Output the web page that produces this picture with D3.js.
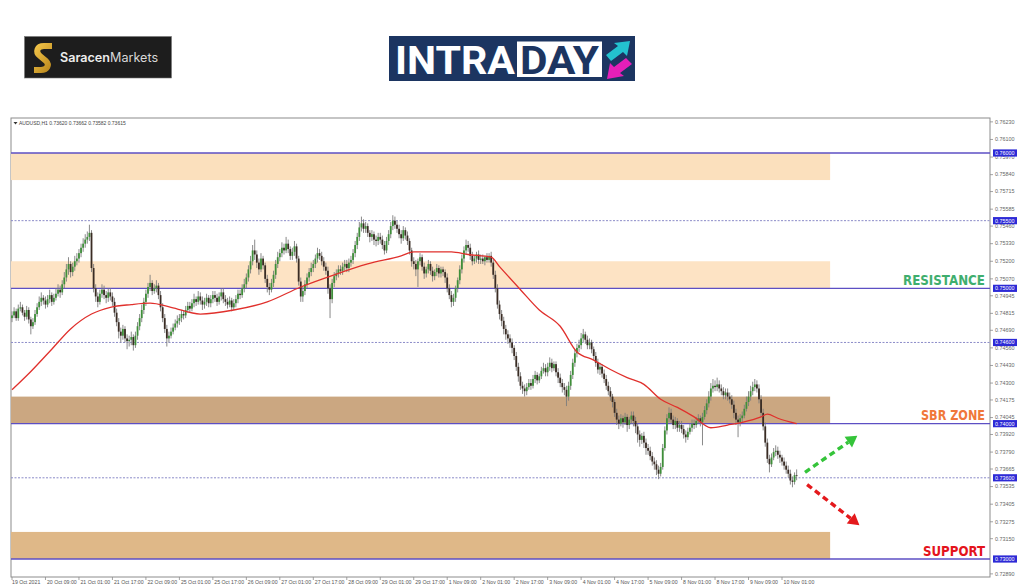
<!DOCTYPE html>
<html>
<head>
<meta charset="utf-8">
<script src="https://cdn.jsdelivr.net/npm/d3@7"></script>
<style>
body { margin:0; background:#fff; }
</style>
</head>
<body>
<script>
// AUDUSD H1 bars, prices in pips above 0.73000
var base = 0.73;
var firstOpen = 178;
var closes = [
  180,183,178,185,186,182,179,184,177,172,175,181,186,190,193,191,
  188,192,195,190,193,196,199,197,203,208,214,218,212,216,220,222,
  226,230,233,236,238,241,215,200,194,190,196,199,195,193,197,194,
  190,182,175,168,165,170,163,161,162,164,158,165,172,178,184,190,
  196,201,204,198,200,202,195,186,178,170,163,165,168,171,174,176,
  178,181,180,184,187,185,189,192,190,194,191,188,190,193,189,192,
  195,193,190,194,197,192,190,188,191,186,189,192,196,195,200,203,
  208,214,220,228,225,219,214,222,217,207,201,199,204,210,218,223,
  226,230,228,233,229,224,227,231,222,205,194,198,203,208,212,215,
  218,222,226,224,220,216,213,200,192,204,209,211,214,213,216,218,
  215,219,221,226,232,238,245,248,244,246,241,238,240,236,235,238,
  236,232,228,235,240,246,250,247,244,240,237,243,239,235,228,220,
  218,214,220,223,216,211,214,218,213,209,212,215,211,214,212,208,
  200,195,190,193,200,206,214,222,228,232,230,224,220,222,225,221,
  222,220,223,221,224,219,210,200,188,181,176,170,166,163,160,156,
  150,142,135,128,126,124,127,130,128,133,136,132,135,139,141,138,
  142,145,141,144,138,134,130,127,125,120,128,136,145,152,156,158,
  163,166,162,158,160,155,150,145,140,142,137,133,128,124,120,116,
  108,103,100,104,101,105,99,103,106,102,98,92,88,91,86,82,
  80,76,72,70,66,63,68,82,95,104,108,103,99,102,97,99,
  96,92,90,94,97,100,99,102,104,101,105,110,115,120,126,128,
  127,129,126,124,121,123,120,118,114,108,103,101,104,106,111,116,
  120,124,127,129,126,118,108,98,86,74,70,75,79,80,77,75,
  72,69,66,63,58,57,62,61.5
];
var highs = [
  183,186,185,188,190,188,184,187,186,179,178,184,189,194,197,195,
  194,195,199,197,196,200,203,202,206,212,218,223,220,219,224,226,
  229,233,237,240,242,247,243,218,203,197,199,203,202,198,200,200,
  197,193,185,178,171,173,172,166,165,168,166,168,175,181,188,193,
  199,204,210,206,203,206,204,198,189,181,173,168,171,174,177,180,
  181,184,184,187,190,190,192,196,194,198,197,194,193,196,195,195,
  198,198,196,197,200,200,195,193,194,193,192,195,199,199,203,207,
  211,217,224,232,236,228,222,226,224,219,210,204,207,213,221,227,
  229,234,233,238,236,231,230,235,233,224,208,201,206,211,215,219,
  221,225,230,229,227,223,219,216,203,207,212,214,217,217,219,221,
  221,222,224,229,235,241,249,253,251,249,248,243,243,242,239,241,
  241,239,235,238,243,249,254,253,250,247,243,246,245,242,237,230,
  223,221,222,226,225,219,216,221,220,216,214,218,217,216,216,214,
  211,203,198,196,202,208,217,225,231,236,235,233,227,224,227,228,
  225,225,224,226,226,227,222,213,203,191,184,179,173,169,166,163,
  158,153,145,138,131,129,130,133,133,136,139,138,137,142,145,144,
  145,149,148,146,146,141,137,133,130,128,131,139,148,155,159,162,
  167,170,168,165,163,162,157,153,148,145,144,140,136,131,127,122,
  118,111,106,107,106,108,107,105,109,109,105,100,95,93,94,89,
  85,83,79,75,73,69,71,85,98,107,112,111,106,105,104,102,
  102,99,95,97,100,103,103,105,107,106,108,113,118,124,130,133,
  132,134,132,129,127,126,126,123,121,117,111,106,107,109,114,120,
  124,128,131,133,132,129,121,111,101,89,77,78,82,84,83,80,
  77,75,72,69,66,61,64,66.2
];
var lows = [
  175,178,176,176,183,180,176,177,174,166,170,173,179,184,187,188,
  185,186,189,187,188,191,194,193,195,200,205,210,208,209,213,217,
  219,223,227,230,233,235,212,197,190,186,188,193,192,189,190,191,
  187,179,172,163,160,162,160,155,157,158,154,156,162,169,175,181,
  187,193,198,195,196,197,192,183,175,167,157,160,163,166,169,171,
  173,175,177,178,182,182,183,186,187,188,188,184,185,187,186,186,
  189,190,187,188,191,189,187,185,186,183,184,186,189,192,193,197,
  200,205,211,217,221,215,210,212,214,204,197,195,197,201,207,215,
  220,223,225,226,226,221,221,224,219,202,190,190,195,200,205,209,
  212,215,219,221,217,213,210,196,178,189,201,206,208,210,210,213,
  212,212,216,218,223,229,235,242,241,241,238,234,235,232,231,232,
  233,229,225,226,232,237,243,244,241,237,233,235,236,232,225,216,
  214,209,201,217,213,207,208,211,210,205,206,209,208,208,209,204,
  197,192,186,187,190,197,203,211,219,225,227,221,217,218,219,218,
  218,218,217,219,219,216,207,197,185,177,172,166,162,159,156,152,
  147,139,131,125,122,120,121,125,125,126,130,129,130,133,137,135,
  135,139,138,139,135,130,127,123,121,113,117,125,133,142,149,153,
  155,160,159,155,155,152,147,142,137,136,134,130,125,121,117,112,
  105,99,96,98,97,99,94,96,100,98,93,86,83,85,82,77,
  77,73,69,66,62,59,61,66,80,92,101,100,96,96,94,94,
  93,89,86,88,92,94,96,97,100,98,84,103,107,112,117,123,
  124,124,123,121,118,118,117,115,111,104,99,90,98,101,104,109,
  113,117,121,124,123,115,105,95,83,71,64,68,73,76,74,71,
  69,66,63,60,55,53,55,58.2
];

// moving average, sampled at bar indices (pips above 0.73000)
var maBars = [0,9,19,28,38,47,57,66,76,90,106,122,138,154,170,186,192,201,210,218,229,233,243,252,262,270,278,286,294,302,310,318,326,334,342,349,358,361,366,375];
var maValues = [125,138.5,155,170,181,186,188,189,186,181,184,190,201,210,218,224,227,227,227,225,223,216,199,184,172,153,147,140,134,129,118,112,105,97,99,101,105,107,104,100];

var timeLabels = ["19 Oct 2021","20 Oct 09:00","21 Oct 01:00","21 Oct 17:00","22 Oct 09:00","25 Oct 01:00",
  "25 Oct 17:00","26 Oct 09:00","27 Oct 01:00","27 Oct 17:00","28 Oct 09:00","29 Oct 01:00","29 Oct 17:00",
  "1 Nov 09:00","2 Nov 01:00","2 Nov 17:00","3 Nov 09:00","4 Nov 01:00","4 Nov 17:00","5 Nov 09:00",
  "8 Nov 01:00","8 Nov 17:00","9 Nov 09:00","10 Nov 01:00"];
var barsPerLabel = 16;

var priceTicks = [0.76230,0.76100,0.75970,0.75840,0.75715,0.75585,0.75460,0.75330,0.75200,0.75070,
  0.74945,0.74815,0.74690,0.74560,0.74430,0.74300,0.74175,0.74045,0.73920,0.73790,0.73665,
  0.73535,0.73405,0.73275,0.73150,0.72890];

var solidLevels = [0.760, 0.750, 0.740, 0.730];
var dottedLevels = [0.755, 0.746, 0.736];

var zoneLo = [0.758, 0.750, 0.740, 0.730];
var zoneHi = [0.760, 0.752, 0.742, 0.732];
var zoneEndBar = 391;

var labelTexts = ["RESISTANCE", "SBR ZONE", "SUPPORT"];
var labelLevels = [0.750, 0.740, 0.730];

// arrows: [bar, pips] start and end
var arrowFrom = [[379, 64], [380, 55]];
var arrowTo = [[404, 91], [405, 25]];

var title = "AUDUSD,H1  0.73620 0.73662 0.73582 0.73615";

// ---------------------------------------------------------------
var W = 1024, H = 587;
var pL = 11, pR = 990, pT = 118, pB = 577;

var svg = d3.select("body").append("svg")
    .attr("width", W).attr("height", H)
    .style("display", "block");
var defs = svg.append("defs");

var x = d3.scaleLinear().domain([0, 368]).range([12, 782]);
var y = d3.scaleLinear().domain([0.73, 0.76]).range([559, 153]);
var yp = function(p) { return y(base + p / 10000); };

var zoneColors = ["#fbe0bd", "#fde3c4", "#cba781", "#dfb888"];

// frame
svg.append("rect")
    .attr("x", pL).attr("y", pT)
    .attr("width", pR - pL).attr("height", pB - pT)
    .attr("fill", "#fff").attr("stroke", "#8c8c8c").attr("stroke-width", 1);

defs.append("clipPath").attr("id", "plot")
  .append("rect").attr("x", pL).attr("y", pT)
    .attr("width", pR - pL).attr("height", pB - pT);

var plot = svg.append("g").attr("clip-path", "url(#plot)");

// zones
plot.selectAll("rect.zone")
  .data(zoneLo)
  .enter().append("rect")
    .attr("class", "zone")
    .attr("x", pL)
    .attr("width", x(zoneEndBar) - pL)
    .attr("y", function(d, i) { return y(zoneHi[i]); })
    .attr("height", function(d, i) { return y(zoneLo[i]) - y(zoneHi[i]); })
    .attr("fill", function(d, i) { return zoneColors[i]; });

// level lines
plot.selectAll("line.dotted")
  .data(dottedLevels)
  .enter().append("line")
    .attr("x1", pL).attr("x2", pR)
    .attr("y1", function(d) { return y(d); })
    .attr("y2", function(d) { return y(d); })
    .attr("stroke", "#8b8bc8").attr("stroke-width", 1)
    .attr("stroke-dasharray", "2,1.5");

plot.selectAll("line.solid")
  .data(solidLevels)
  .enter().append("line")
    .attr("x1", pL).attr("x2", pR)
    .attr("y1", function(d) { return y(d); })
    .attr("y2", function(d) { return y(d); })
    .attr("stroke", "#5d4fc4").attr("stroke-width", 1.4);

// candles
var bars = closes.map(function(c, i) {
  var o = i === 0 ? firstOpen : closes[i - 1];
  return { i: i, o: o, c: c,
           h: Math.max(highs[i], o, c),
           l: Math.min(lows[i], o, c) };
});

var candle = plot.append("g").selectAll("g")
  .data(bars)
  .enter().append("g");

candle.append("line")
    .attr("x1", function(d) { return x(d.i); })
    .attr("x2", function(d) { return x(d.i); })
    .attr("y1", function(d) { return yp(d.h); })
    .attr("y2", function(d) { return yp(d.l); })
    .attr("stroke", "#7d7d7d").attr("stroke-width", 0.9);

candle.append("rect")
    .attr("x", function(d) { return x(d.i) - 0.9; })
    .attr("width", 1.8)
    .attr("y", function(d) { return yp(Math.max(d.o, d.c)); })
    .attr("height", function(d) { return Math.max(0.7, Math.abs(yp(d.o) - yp(d.c))); })
    .attr("fill", function(d) { return d.c >= d.o ? "#3f8f3a" : "#3a2c24"; });

// moving average
var ma = d3.line()
    .x(function(d, i) { return x(maBars[i]); })
    .y(function(d) { return yp(d); })
    .curve(d3.curveMonotoneX);

plot.append("path")
    .datum(maValues)
    .attr("d", ma)
    .attr("fill", "none")
    .attr("stroke", "#e0302c")
    .attr("stroke-width", 1.3);

// arrows
var arrowColors = ["#35c43a", "#e4191c"];
arrowFrom.forEach(function(f, k) {
  var t = arrowTo[k];
  var x1 = x(f[0]), y1 = yp(f[1]), x2 = x(t[0]), y2 = yp(t[1]);
  var a = Math.atan2(y2 - y1, x2 - x1);
  var headL = 11, headW = 6.5;
  var bx = x2 - headL * Math.cos(a), by = y2 - headL * Math.sin(a);
  plot.append("line")
      .attr("x1", x1).attr("y1", y1).attr("x2", bx).attr("y2", by)
      .attr("stroke", arrowColors[k]).attr("stroke-width", 3.4)
      .attr("stroke-dasharray", "6,4");
  var pts = [[x2, y2],
             [bx + headW * Math.sin(a), by - headW * Math.cos(a)],
             [bx - headW * Math.sin(a), by + headW * Math.cos(a)]];
  plot.append("path")
      .attr("d", "M" + pts.join("L") + "Z")
      .attr("fill", arrowColors[k]);
});

// zone labels
var labelColors = ["#3fae6e", "#f0783a", "#e4141c"];
var labelWidths = [82, 64, 62];
svg.selectAll("text.zlabel")
  .data(labelTexts)
  .enter().append("text")
    .attr("x", 985)
    .attr("y", function(d, i) { return y(labelLevels[i]) - 3.5; })
    .attr("text-anchor", "end")
    .attr("font-family", "DejaVu Sans Condensed, DejaVu Sans")
    .attr("font-weight", "bold")
    .attr("font-size", 13.5)
    .attr("textLength", function(d, i) { return labelWidths[i]; })
    .attr("lengthAdjust", "spacingAndGlyphs")
    .attr("fill", function(d, i) { return labelColors[i]; })
    .text(function(d) { return d; });

// price axis
var axisFont = "Liberation Sans, Arial, sans-serif";
svg.selectAll("line.ptick")
  .data(priceTicks)
  .enter().append("line")
    .attr("x1", pR).attr("x2", pR + 3)
    .attr("y1", function(d) { return y(d); })
    .attr("y2", function(d) { return y(d); })
    .attr("stroke", "#8c8c8c").attr("stroke-width", 0.8);

svg.selectAll("text.ptick")
  .data(priceTicks)
  .enter().append("text")
    .attr("x", pR + 5)
    .attr("y", function(d) { return y(d) + 1.8; })
    .attr("font-family", axisFont).attr("font-size", 5.4)
    .attr("fill", "#666")
    .text(function(d) { return d.toFixed(5); });

var levelMarks = solidLevels.concat(dottedLevels);
var mark = svg.selectAll("g.hl")
  .data(levelMarks)
  .enter().append("g");
mark.append("rect")
    .attr("x", pR + 3).attr("width", 24)
    .attr("y", function(d) { return y(d) - 3.6; })
    .attr("height", 7.2)
    .attr("fill", "#2d2ad6");
mark.append("text")
    .attr("x", pR + 5)
    .attr("y", function(d) { return y(d) + 1.9; })
    .attr("font-family", axisFont).attr("font-size", 5.4)
    .attr("fill", "#fff")
    .text(function(d) { return d.toFixed(5); });

// time axis
svg.selectAll("line.ttick")
  .data(timeLabels)
  .enter().append("line")
    .attr("x1", function(d, i) { return x(i * barsPerLabel); })
    .attr("x2", function(d, i) { return x(i * barsPerLabel); })
    .attr("y1", pB).attr("y2", pB + 3)
    .attr("stroke", "#8c8c8c").attr("stroke-width", 0.8);

svg.selectAll("text.ttick")
  .data(timeLabels)
  .enter().append("text")
    .attr("x", function(d, i) { return x(i * barsPerLabel) + (i === 0 ? 0 : 1.5); })
    .attr("y", pB + 6.5)
    .attr("font-family", axisFont).attr("font-size", 5.2)
    .attr("fill", "#555")
    .text(function(d) { return d; });

// title
svg.append("path")
    .attr("d", "M13.5,122 L17.5,122 L15.5,124.5 Z")
    .attr("fill", "#333");
svg.append("text")
    .attr("x", 19).attr("y", 125)
    .attr("font-family", axisFont).attr("font-size", 5)
    .attr("fill", "#444")
    .text(title);

// ---- logos ----
var sm = svg.append("g");
sm.append("rect").attr("x", 24.5).attr("y", 36.5).attr("width", 147).attr("height", 41.5)
    .attr("fill", "#1d1d1d").attr("stroke", "#777").attr("stroke-width", 0.6);
var grad = defs.append("linearGradient").attr("id", "gold")
    .attr("x1", "0").attr("y1", "0").attr("x2", "1").attr("y2", "1");
grad.append("stop").attr("offset", "0").attr("stop-color", "#f4c64a");
grad.append("stop").attr("offset", "1").attr("stop-color", "#b8861c");
sm.append("path")
    .attr("d", "M52,46 L44,46 C37,46 35,52 40,56 L46,61 C50,65 47,70 41,70 L34,70")
    .attr("fill", "none")
    .attr("stroke", "url(#gold)").attr("stroke-width", 6)
    .attr("stroke-linejoin", "round");
var smText = sm.append("text").attr("x", 60).attr("y", 61.5)
    .attr("font-family", "Inter, Open Sans, sans-serif").attr("font-size", 12.6)
    .attr("fill", "#ececec");
smText.append("tspan").attr("font-weight", 600).text("Saracen");
smText.append("tspan").attr("font-weight", 400).attr("fill", "#d8d8d8").text("Markets");

var it = svg.append("g");
it.append("rect").attr("x", 389).attr("y", 36).attr("width", 246).attr("height", 45)
    .attr("fill", "#1c3561");
it.append("text").attr("x", 395).attr("y", 73.5)
    .attr("font-family", "Roboto, Liberation Sans, sans-serif").attr("font-weight", "bold")
    .attr("font-size", 38).attr("fill", "#fff")
    .attr("textLength", 120).attr("lengthAdjust", "spacingAndGlyphs")
    .text("INTRA");
it.append("rect").attr("x", 517).attr("y", 41.5).attr("width", 85).attr("height", 35.5)
    .attr("fill", "#fff");
it.append("text").attr("x", 520).attr("y", 73.5)
    .attr("font-family", "Roboto, Liberation Sans, sans-serif").attr("font-weight", "bold")
    .attr("font-size", 38).attr("fill", "#1c3561")
    .attr("textLength", 79).attr("lengthAdjust", "spacingAndGlyphs")
    .text("DAY");
// up-right cyan arrow and down-left magenta arrow
it.append("path")
    .attr("d", "M606,55 L618,46 L614,43 L630,41 L627,56 L623,52 L611,61 Z")
    .attr("fill", "#23c2cf");
it.append("path")
    .attr("d", "M632,64 L620,73 L624,76 L607,79 L610,63 L614,67 L626,58 Z")
    .attr("fill", "#e51fb8");
</script>
</body>
</html>
